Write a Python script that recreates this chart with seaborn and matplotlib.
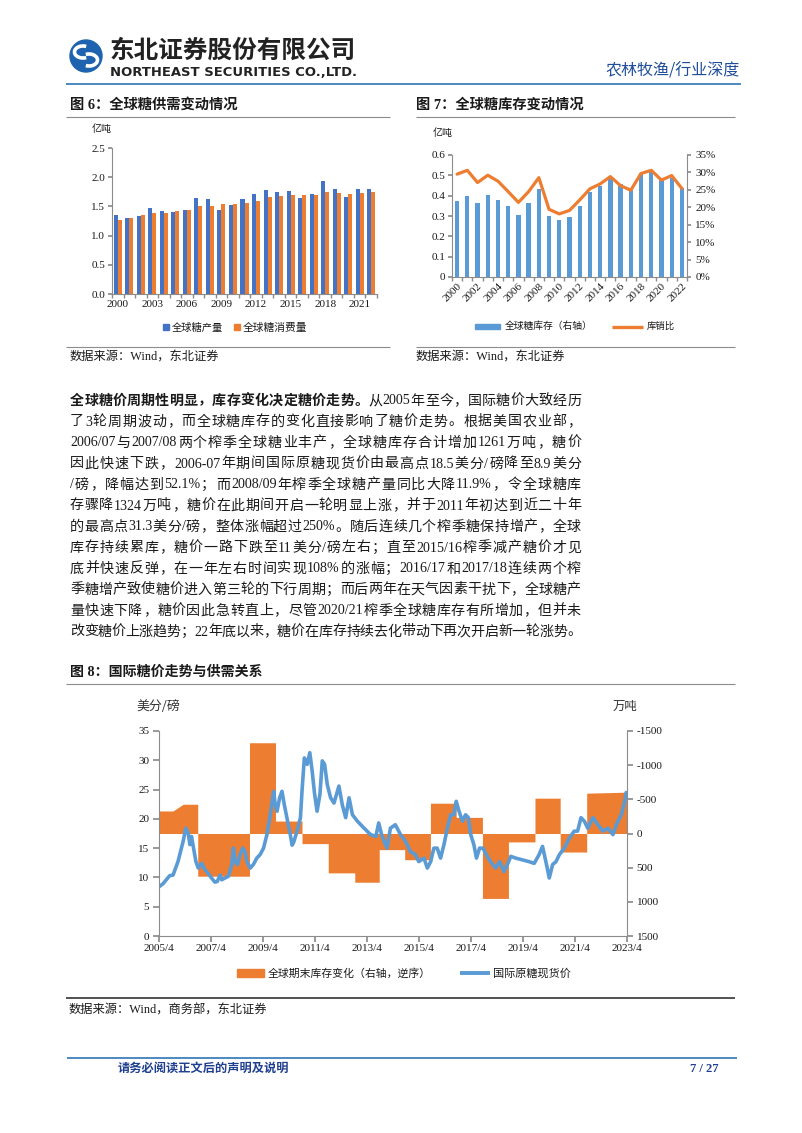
import numpy as np
import pandas as pd
import matplotlib
matplotlib.use("Agg")
import matplotlib.pyplot as plt
import seaborn as sns
from matplotlib.patches import Rectangle, Circle, Arc
from matplotlib.lines import Line2D

# ---------------- data ----------------
years6 = [str(y) for y in range(2000, 2023)]
sugar_production = [1.35, 1.30, 1.34, 1.48, 1.42, 1.41, 1.44, 1.64, 1.63, 1.43, 1.53, 1.62,
                    1.72, 1.78, 1.75, 1.77, 1.65, 1.71, 1.94, 1.79, 1.66, 1.79, 1.80]
sugar_consumption = [1.27, 1.30, 1.35, 1.38, 1.39, 1.42, 1.44, 1.51, 1.51, 1.54, 1.54, 1.55,
                     1.60, 1.66, 1.67, 1.69, 1.69, 1.70, 1.74, 1.73, 1.71, 1.73, 1.74]
fig6_labels = ['2000', '2003', '2006', '2009', '2012', '2015', '2018', '2021']
fig6_series = ['全球糖产量', '全球糖消费量']

years7 = [str(y) for y in range(2000, 2023)]
sugar_stock = [0.374, 0.399, 0.366, 0.405, 0.379, 0.348, 0.306, 0.366, 0.431, 0.298, 0.280, 0.294,
               0.351, 0.420, 0.446, 0.485, 0.455, 0.430, 0.510, 0.515, 0.480, 0.485, 0.440]
stock_use_ratio = [29.5, 30.6, 27.1, 29.2, 27.5, 24.5, 21.4, 24.5, 28.5, 19.4, 18.1, 19.1,
                   22.1, 25.3, 26.7, 28.8, 26.2, 24.9, 29.7, 30.6, 27.8, 29.1, 25.4]
fig7_labels = ['2000', '2002', '2004', '2006', '2008', '2010', '2012', '2014', '2016', '2018', '2020', '2022']
fig7_series = ['全球糖库存（右轴）', '库销比']

# global ending-stock change (10k t), piecewise by season, reversed right axis
stock_chg_start = [2005.25, 2005.79, 2006.18, 2006.74, 2008.73, 2009.73, 2010.75, 2011.76, 2012.78,
                   2013.72, 2014.70, 2015.69, 2016.68, 2017.69, 2018.69, 2019.71, 2020.68, 2021.70]
stock_chg_end = [2005.79, 2006.18, 2006.74, 2008.73, 2009.73, 2010.75, 2011.76, 2012.78, 2013.72,
                 2014.70, 2015.69, 2016.68, 2017.69, 2018.69, 2019.71, 2020.68, 2021.70, 2023.25]
stock_chg_from = [-330, -330, -428, 625, -1328, -182, 148, 576, 713,
                  236, 384, -443, -236, 950, 123, -517, 271, -590]
stock_chg_to = [-330, -428, -428, 625, -1328, -182, 148, 576, 713,
                236, 384, -443, -236, 950, 123, -517, 271, -605]

# international raw sugar spot price (US cents/lb)
price_time = [2005.25, 2005.40, 2005.66, 2005.79, 2005.98, 2006.18, 2006.28, 2006.37, 2006.44, 2006.50,
              2006.59, 2006.67, 2006.76, 2006.89, 2007.02, 2007.14, 2007.27, 2007.40, 2007.49, 2007.60,
              2007.66, 2007.79, 2007.92, 2008.05, 2008.11, 2008.18, 2008.27, 2008.37, 2008.47, 2008.56,
              2008.63, 2008.76, 2008.88, 2009.01, 2009.14, 2009.27, 2009.40, 2009.53, 2009.66, 2009.72,
              2009.79, 2009.89, 2009.98, 2010.07, 2010.17, 2010.30, 2010.37, 2010.43, 2010.56, 2010.69,
              2010.75, 2010.84, 2010.95, 2011.05, 2011.14, 2011.23, 2011.33, 2011.44, 2011.53, 2011.62,
              2011.72, 2011.85, 2011.98, 2012.17, 2012.30, 2012.43, 2012.56, 2012.69, 2012.88, 2013.14,
              2013.39, 2013.59, 2013.70, 2013.83, 2014.02, 2014.15, 2014.34, 2014.54, 2014.73, 2014.92,
              2015.11, 2015.24, 2015.44, 2015.57, 2015.70, 2015.82, 2015.95, 2016.08, 2016.21, 2016.34,
              2016.47, 2016.59, 2016.68, 2016.79, 2016.92, 2017.04, 2017.15, 2017.24, 2017.36, 2017.46,
              2017.58, 2017.71, 2017.84, 2018.00, 2018.20, 2018.35, 2018.52, 2018.65, 2018.78, 2018.97,
              2019.23, 2019.48, 2019.68, 2019.87, 2020.00, 2020.13, 2020.26, 2020.39, 2020.52, 2020.65,
              2020.84, 2021.03, 2021.22, 2021.35, 2021.48, 2021.61, 2021.74, 2021.94, 2022.13, 2022.32,
              2022.52, 2022.71, 2022.84, 2023.03, 2023.16, 2023.22]
price_value = [8.4, 8.9, 10.3, 10.4, 12.7, 16.2, 18.4, 17.6, 15.6, 17.0,
               14.7, 12.7, 11.6, 12.4, 11.3, 10.7, 9.9, 9.2, 9.3, 10.4,
               9.6, 9.9, 10.2, 12.2, 15.0, 12.7, 12.2, 13.9, 15.0, 14.4,
               12.7, 11.6, 12.2, 13.3, 13.9, 15.0, 17.3, 20.7, 24.7, 22.4,
               21.3, 23.6, 24.7, 22.4, 20.2, 17.3, 15.5, 16.0, 17.9, 20.2,
               24.7, 30.4, 29.3, 31.3, 28.2, 24.4, 21.3, 24.2, 29.9, 29.3,
               25.9, 23.6, 22.7, 25.6, 22.4, 20.2, 23.6, 20.7, 19.6, 18.4,
               17.3, 17.0, 19.3, 17.0, 15.0, 18.4, 19.0, 17.3, 16.2, 14.4,
               13.9, 12.7, 13.3, 11.6, 12.7, 15.0, 15.0, 13.3, 15.6, 18.4,
               20.7, 20.7, 23.0, 21.3, 19.6, 20.7, 20.2, 17.3, 15.6, 13.3,
               15.0, 15.0, 13.9, 12.7, 11.6, 12.7, 11.0, 12.2, 13.6, 13.3,
               13.0, 12.7, 12.4, 13.9, 15.3, 12.7, 9.9, 12.2, 12.7, 13.9,
               15.0, 16.7, 17.9, 17.9, 20.2, 19.6, 18.4, 20.2, 19.0, 17.9,
               18.4, 17.3, 19.0, 20.7, 23.0, 24.5]
fig8_labels = ['2005/4', '2007/4', '2009/4', '2011/4', '2013/4', '2015/4', '2017/4', '2019/4', '2021/4', '2023/4']
fig8_series = ['全球期末库存变化（右轴，逆序）', '国际原糖现货价']

para_bold = "全球糖价周期性明显，库存变化决定糖价走势。"
para_lines = [
    "从 2005 年至今，国际糖价大致经历",
    "了 3 轮周期波动，而全球糖库存的变化直接影响了糖价走势。根据美国农业部，",
    "2006/07 与 2007/08 两个榨季全球糖业丰产，全球糖库存合计增加 1261 万吨，糖价",
    "因此快速下跌，2006-07 年期间国际原糖现货价由最高点 18.5 美分/磅降至 8.9 美分",
    "/磅，降幅达到 52.1%；而 2008/09 年榨季全球糖产量同比大降 11.9%，令全球糖库",
    "存骤降 1324 万吨，糖价在此期间开启一轮明显上涨，并于 2011 年初达到近二十年",
    "的最高点 31.3 美分/磅，整体涨幅超过 250%。随后连续几个榨季糖保持增产，全球",
    "库存持续累库，糖价一路下跌至 11 美分/磅左右；直至 2015/16 榨季减产糖价才见",
    "底并快速反弹，在一年左右时间实现 108%的涨幅；2016/17 和 2017/18 连续两个榨",
    "季糖增产致使糖价进入第三轮的下行周期；而后两年在天气因素干扰下，全球糖产",
    "量快速下降，糖价因此急转直上，尽管 2020/21 榨季全球糖库存有所增加，但并未",
    "改变糖价上涨趋势；22 年底以来，糖价在库存持续去化带动下再次开启新一轮涨势。",
]

# ---------------- style ----------------
sns.set_theme(style="white")
SERIF = ['Liberation Serif', 'Noto Sans CJK SC', 'DejaVu Sans']
SANS = ['Noto Sans CJK SC', 'DejaVu Sans']
plt.rcParams['font.family'] = SERIF
plt.rcParams['axes.unicode_minus'] = False

BLUE6 = '#4472C4'
ORANGE = '#ED7D31'
LBLUE = '#5B9BD5'
GRAY = '#8C8C8C'
TXT = '#1a1a1a'

W, H = 802, 1133
fig = plt.figure(figsize=(W / 100, H / 100), dpi=100, facecolor='white')
renderer = fig.canvas.get_renderer()

bg = fig.add_axes([0, 0, 1, 1])
bg.set_xlim(0, W)
bg.set_ylim(H, 0)
bg.axis('off')
bg.patch.set_visible(False)
bg.set_zorder(-5)


def axes_px(l, t, r, b):
    return fig.add_axes([l / W, 1 - b / H, (r - l) / W, (b - t) / H])


def txt(x, y, s, size, target=None, ha='left', **kw):
    t = bg.text(x, y, s, fontsize=size, ha=ha, va='center', **kw)
    if target is not None:
        w = t.get_window_extent(renderer).width
        if w > 0:
            t.set_fontsize(size * target / w)
    return t


def hline(x0, x1, y, color, lw):
    bg.plot([x0, x1], [y, y], color=color, lw=lw, solid_capstyle='butt')


def style_spine(ax, sides):
    for s in ['left', 'right', 'top', 'bottom']:
        ax.spines[s].set_visible(s in sides)
        ax.spines[s].set_color(GRAY)
        ax.spines[s].set_linewidth(0.8)


# ---------------- header ----------------
bg.add_patch(Circle((86, 56), 16, color='#1E63B0'))
bg.add_patch(Arc((83, 52), 17, 12, theta1=60, theta2=300, lw=2.6, color='white'))
bg.add_patch(Arc((89, 60), 17, 12, theta1=240, theta2=120, lw=2.6, color='white'))
txt(110, 51, '东北证券股份有限公司', 18, target=246, family=SANS, fontweight='bold', color='#222222')
txt(110, 72, 'NORTHEAST SECURITIES CO.,LTD.', 9, target=246, family=['DejaVu Sans'],
    fontweight='bold', color='#222222')
txt(740, 71, '农林牧渔/行业深度', 11, target=134, ha='right', family=SANS, color='#1F4E9A')
hline(66, 741, 84, '#2E75B6', 1.2)

# ---------------- titles & sources ----------------
txt(70, 105, '图 6：全球糖供需变动情况', 10, target=168, family=SERIF, fontweight='bold', color=TXT)
txt(416, 105, '图 7：全球糖库存变动情况', 10, target=167, family=SERIF, fontweight='bold', color=TXT)
hline(66, 390, 116.5, GRAY, 0.8)
hline(416, 735, 116.5, GRAY, 0.8)
hline(66, 390, 347, GRAY, 0.8)
hline(416, 735, 347, GRAY, 0.8)
txt(70, 358, '数据来源：Wind，东北证券', 8.5, target=148, color=TXT)
txt(416, 358, '数据来源：Wind，东北证券', 8.5, target=148, color=TXT)

# ---------------- Figure 6 ----------------
ax6 = axes_px(112, 148, 377, 294)
df6 = pd.DataFrame({
    'year': years6 * 2,
    'value': sugar_production + sugar_consumption,
    'series': [fig6_series[0]] * len(years6) + [fig6_series[1]] * len(years6),
})
sns.barplot(data=df6, x='year', y='value', hue='series', palette=[BLUE6, ORANGE],
            width=0.7, gap=0, linewidth=0, saturation=1, errorbar=None,
            legend=False, ax=ax6)
ax6.set_xlim(-0.5, len(years6) - 0.5)
ax6.set_ylim(0, 2.5)
ax6.set_yticks(np.arange(0, 2.51, 0.5))
ax6.set_yticklabels([f'{v:.1f}' for v in np.arange(0, 2.51, 0.5)], fontsize=8, color=TXT)
ax6.set_xticks([years6.index(l) for l in fig6_labels])
ax6.set_xticklabels(fig6_labels, fontsize=8, color=TXT)
ax6.set_xticks(np.arange(-0.5, len(years6), 1), minor=True)
ax6.tick_params(axis='x', which='major', length=0, pad=4)
ax6.tick_params(axis='x', which='minor', length=3, color=GRAY, bottom=True)
ax6.tick_params(axis='y', length=3, color=GRAY, left=True, pad=2)
ax6.set_xlabel('')
ax6.set_ylabel('')
style_spine(ax6, ['left', 'bottom'])
ax6.set_facecolor('white')
txt(92, 129, '亿吨', 7.5, target=20, color=TXT)
# legend 6
bg.add_patch(Rectangle((163, 324), 6, 6, color=BLUE6))
txt(172, 327.5, fig6_series[0], 7.5, target=51, color=TXT)
bg.add_patch(Rectangle((234, 324), 6, 6, color=ORANGE))
txt(243, 327.5, fig6_series[1], 7.5, target=64, color=TXT)

# ---------------- Figure 7 ----------------
ax7 = axes_px(452, 155, 687, 277)
sns.barplot(x=years7, y=sugar_stock, color=LBLUE, width=0.42, linewidth=0, saturation=1,
            errorbar=None, ax=ax7)
ax7r = ax7.twinx()
sns.lineplot(x=np.arange(len(years7)), y=stock_use_ratio, color=ORANGE, lw=2.3, ax=ax7r)
ax7.set_xlim(-0.5, len(years7) - 0.5)
ax7.set_ylim(0, 0.6)
ax7r.set_ylim(0, 35)
ax7.set_yticks(np.arange(0, 0.61, 0.1))
ax7.set_yticklabels(['0'] + [f'{v:.1f}' for v in np.arange(0.1, 0.61, 0.1)], fontsize=8, color=TXT)
ax7r.set_yticks(np.arange(0, 36, 5))
ax7r.set_yticklabels([f'{v}%' for v in range(0, 36, 5)], fontsize=8, color=TXT)
ax7.set_xticks([years7.index(l) for l in fig7_labels])
ax7.set_xticklabels(fig7_labels, fontsize=8, color=TXT, rotation=45, ha='right',
                    rotation_mode='anchor')
ax7.set_xticks(np.arange(-0.5, len(years7), 1), minor=True)
ax7.tick_params(axis='x', which='major', length=0, pad=3)
ax7.tick_params(axis='x', which='minor', length=3, color=GRAY, bottom=True)
ax7.tick_params(axis='y', length=3, color=GRAY, left=True, pad=2)
ax7r.tick_params(axis='y', length=3, color=GRAY, right=True, pad=3)
for a in (ax7, ax7r):
    a.set_xlabel('')
    a.set_ylabel('')
style_spine(ax7, ['left', 'bottom'])
style_spine(ax7r, ['right'])
txt(433, 133, '亿吨', 7.5, target=20, color=TXT)
# legend 7
bg.add_patch(Rectangle((475, 323.5), 25, 5, color=LBLUE))
txt(505, 326.5, fig7_series[0], 7.5, target=88, color=TXT)
bg.plot([612, 643], [326.5, 326.5], color=ORANGE, lw=2.4, solid_capstyle='butt')
txt(647, 326.5, fig7_series[1], 7.5, target=28, color=TXT)

# ---------------- paragraph ----------------
def tokenize(s, weight):
    toks, buf = [], ''
    for ch in s:
        if ord(ch) < 128:
            buf += ch
        else:
            if buf.strip():
                toks.append((buf.strip(), weight))
            buf = ''
            toks.append((ch, weight))
    if buf.strip():
        toks.append((buf.strip(), weight))
    return toks


PX0, PX1 = 70, 581
for i, line in enumerate(para_lines):
    y = 401 + i * 21.0
    toks = []
    if i == 0:
        toks += tokenize(para_bold, 'bold')
    toks += tokenize(line, 'normal')
    objs = [bg.text(0, y, s, fontsize=10.1, fontweight=wt, va='center', ha='left', color=TXT)
            for s, wt in toks]
    widths = [o.get_window_extent(renderer).width for o in objs]
    gap = (PX1 - PX0 - sum(widths)) / (len(objs) - 1)
    x = PX0
    for o, wd in zip(objs, widths):
        o.set_x(x)
        x += wd + gap

# ---------------- Figure 8 ----------------
txt(70, 672, '图 8：国际糖价走势与供需关系', 10, target=192, fontweight='bold', color=TXT)
hline(66, 735, 684, GRAY, 0.8)
txt(136, 706, '美分/磅', 9.5, target=44, family=SANS, color='#333333')
txt(613, 706, '万吨', 9.5, target=25, family=SANS, color='#333333')

ax8 = axes_px(159, 731, 627, 936)
ax8r = ax8.twinx()
xs, ys = [], []
for s, e, v0, v1 in zip(stock_chg_start, stock_chg_end, stock_chg_from, stock_chg_to):
    xs += [s, e]
    ys += [v0, v1]
ax8r.fill_between(xs, 0, ys, color=ORANGE, linewidth=0)
ax8r.set_ylim(1500, -1500)
ax8r.set_yticks(np.arange(-1500, 1501, 500))
ax8r.set_yticklabels([str(v) for v in range(-1500, 1501, 500)], fontsize=8, color=TXT)

sns.lineplot(x=price_time, y=price_value, color=LBLUE, lw=2.6, ax=ax8)
ax8.set_zorder(ax8r.get_zorder() + 1)
ax8.patch.set_visible(False)
ax8.set_ylim(0, 35)
ax8.set_yticks(np.arange(0, 36, 5))
ax8.set_yticklabels([str(v) for v in range(0, 36, 5)], fontsize=8, color=TXT)
tick_pos = [int(l.split('/')[0]) + (int(l.split('/')[1]) - 1) / 12 for l in fig8_labels]
ax8.set_xlim(tick_pos[0], tick_pos[-1])
ax8.set_xticks(tick_pos)
ax8.set_xticklabels(fig8_labels, fontsize=8, color=TXT)
ax8.tick_params(axis='x', length=4, color=GRAY, bottom=True, pad=2)
ax8.tick_params(axis='y', length=4, color=GRAY, left=True, pad=3)
ax8r.tick_params(axis='y', length=4, color=GRAY, right=True, pad=3)
for a in (ax8, ax8r):
    a.set_xlabel('')
    a.set_ylabel('')
style_spine(ax8, ['left', 'bottom'])
style_spine(ax8r, ['right'])

# legend 8
bg.add_patch(Rectangle((237, 969), 27, 8, color=ORANGE))
txt(268, 973, fig8_series[0], 8, target=163, color=TXT)
bg.plot([460, 490], [973, 973], color=LBLUE, lw=2.8, solid_capstyle='butt')
txt(493, 973, fig8_series[1], 8, target=78, color=TXT)

hline(66, 735, 998, '#222222', 1.1)
txt(69, 1010, '数据来源：Wind，商务部，东北证券', 8.5, target=197, color=TXT)

# ---------------- footer ----------------
hline(67, 737, 1058, '#2E75B6', 1.2)
txt(118, 1069, '请务必阅读正文后的声明及说明', 9, target=171, fontweight='bold', color='#1F3F8F')
txt(719, 1069, '7 / 27', 9, ha='right', fontweight='bold', color='#1F3F8F')

fig.savefig('out.png', dpi=100, facecolor='white')
